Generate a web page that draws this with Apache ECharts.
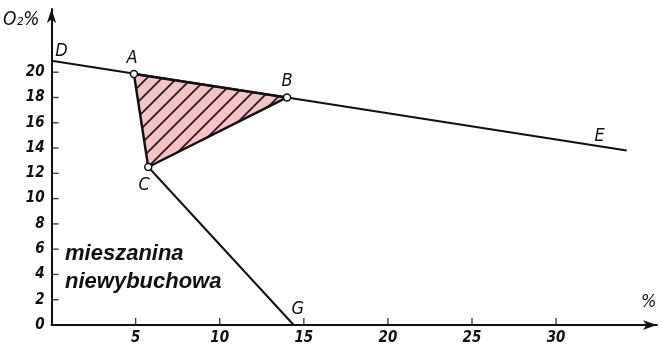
<!DOCTYPE html>
<html>
<head>
<meta charset="utf-8">
<script src="https://cdn.jsdelivr.net/npm/echarts@6/dist/echarts.min.js"></script>
<style>
  html, body { margin: 0; padding: 0; background: #fff; }
  #container { width: 662px; height: 349px; }
</style>
</head>
<body>
<div id="container"></div>
<script>
// tick labels
var xTicks = [5, 10, 15, 20, 25, 30];
var yTicks = [2, 4, 6, 8, 10, 12, 14, 16, 18, 20];
var yLabels = [0, 2, 4, 6, 8, 10, 12, 14, 16, 18, 20];

// points: [CH4 %, O2 %]
var pD = [0, 20.9];
var pE = [34.2, 13.8];
var pA = [4.9, 19.85];
var pB = [14.0, 18.0];
var pC = [5.75, 12.5];
var pG = [14.4, 0];

var triangle = [pA, pB, pC];

var fontFam = '"DejaVu Sans Condensed", "DejaVu Sans", sans-serif';
var tickFont = { fontFamily: fontFam, fontStyle: 'italic', fontWeight: 'bold', fontSize: 15, color: '#111' };

// hatch pattern for the triangle
function makeHatch() {
    var s = 15;
    var c = document.createElement('canvas');
    c.width = s; c.height = s;
    var g = c.getContext('2d');
    g.fillStyle = '#f4c3c7';
    g.fillRect(0, 0, s, s);
    g.strokeStyle = '#2a1a1a';
    g.lineWidth = 1.8;
    g.beginPath();
    g.moveTo(-2, s + 2); g.lineTo(s + 2, -2);
    g.moveTo(-2, 2); g.lineTo(2, -2);
    g.moveTo(s - 2, s + 2); g.lineTo(s + 2, s - 2);
    g.stroke();
    return c;
}

function ptLabel(txt, offset, pos) {
    return {
        show: true, formatter: txt, position: pos || 'top', offset: offset,
        fontFamily: fontFam, fontStyle: 'italic', fontSize: 18, color: '#111'
    };
}

// short inward tick marks, drawn as thin rect symbols on the axis values
function tickSeries(name, vals, isX) {
    var len = 7, w = 1.4;
    return {
        type: 'scatter',
        name: name,
        z: 2,
        silent: true,
        symbol: 'rect',
        symbolSize: isX ? [w, len] : [len, w],
        symbolOffset: isX ? [0, -len / 2] : [len / 2, 0],
        itemStyle: { color: '#111' },
        data: vals.map(function (v) { return isX ? [v, 0] : [0, v]; })
    };
}

var dom = document.getElementById('container');
var myChart = echarts.init(dom, null, { renderer: 'canvas' });
var hatch = makeHatch();

var option = {
    animation: false,
    backgroundColor: '#fff',
    grid: { left: 50, right: 5, top: 9, bottom: 24 },
    xAxis: {
        type: 'value', min: 0, max: 36,
        name: '%', nameLocation: 'end', nameGap: -16,
        nameTextStyle: { fontFamily: fontFam, fontStyle: 'italic', fontSize: 18, color: '#111',
            verticalAlign: 'bottom', padding: [0, 0, 14, 0] },
        splitLine: { show: false },
        axisLine: { lineStyle: { color: '#111', width: 2 }, symbol: ['none', 'arrow'], symbolSize: [7, 14] },
        axisTick: { show: false },
        axisLabel: Object.assign({ customValues: xTicks, margin: 6 }, tickFont)
    },
    yAxis: {
        type: 'value', min: 0, max: 25,
        name: 'O₂%', nameLocation: 'end', nameGap: -2,
        nameTextStyle: { fontFamily: fontFam, fontStyle: 'italic', fontSize: 19, color: '#111',
            align: 'right', verticalAlign: 'top', padding: [0, 12, 0, 0] },
        splitLine: { show: false },
        axisLine: { lineStyle: { color: '#111', width: 2 }, symbol: ['none', 'arrow'], symbolSize: [7, 14] },
        axisTick: { show: false },
        axisLabel: Object.assign({ customValues: yLabels, margin: 7 }, tickFont)
    },
    series: [
        {
            type: 'custom',
            name: 'area',
            z: 1,
            data: [0],
            renderItem: function (params, api) {
                var pts = triangle.map(function (p) { return api.coord(p); });
                return {
                    type: 'polygon',
                    shape: { points: pts },
                    style: { fill: { image: hatch, repeat: 'repeat' }, stroke: null }
                };
            }
        },
        tickSeries('xTicks', xTicks, true),
        tickSeries('yTicks', yTicks, false),
        {
            type: 'line',
            name: 'DE',
            z: 3,
            symbol: 'circle',
            symbolSize: 0,
            showAllSymbol: true,
            lineStyle: { color: '#111', width: 2 },
            data: [
                { value: pD, label: ptLabel('D', [10, 5]) },
                { value: pE, label: ptLabel('E', [-27, 0]) }
            ]
        },
        {
            type: 'line',
            name: 'CG',
            z: 3,
            symbol: 'circle',
            symbolSize: 0,
            showAllSymbol: true,
            lineStyle: { color: '#111', width: 2 },
            data: [
                { value: pC },
                { value: pG, label: ptLabel('G', [4, -2]) }
            ]
        },
        {
            type: 'line',
            name: 'ABC',
            z: 4,
            symbol: 'circle',
            symbolSize: 7,
            showAllSymbol: true,
            itemStyle: { color: '#fff', borderColor: '#111', borderWidth: 1.5 },
            lineStyle: { color: '#111', width: 2.5 },
            data: [
                { value: pA, label: ptLabel('A', [-2, 2]) },
                { value: pB, label: ptLabel('B', [0, 2]) },
                { value: pC, label: ptLabel('C', [-4, 0], 'bottom') },
                { value: pA, symbol: 'none' }
            ]
        }
    ],
    graphic: [
        {
            type: 'text', left: 65, top: 240,
            style: {
                text: 'mieszanina\nniewybuchowa',
                fontFamily: '"Liberation Sans", Arial, sans-serif',
                fontStyle: 'italic', fontWeight: 'bold', fontSize: 22, lineHeight: 28,
                fill: '#111'
            }
        }
    ]
};
myChart.setOption(option);
</script>
</body>
</html>
